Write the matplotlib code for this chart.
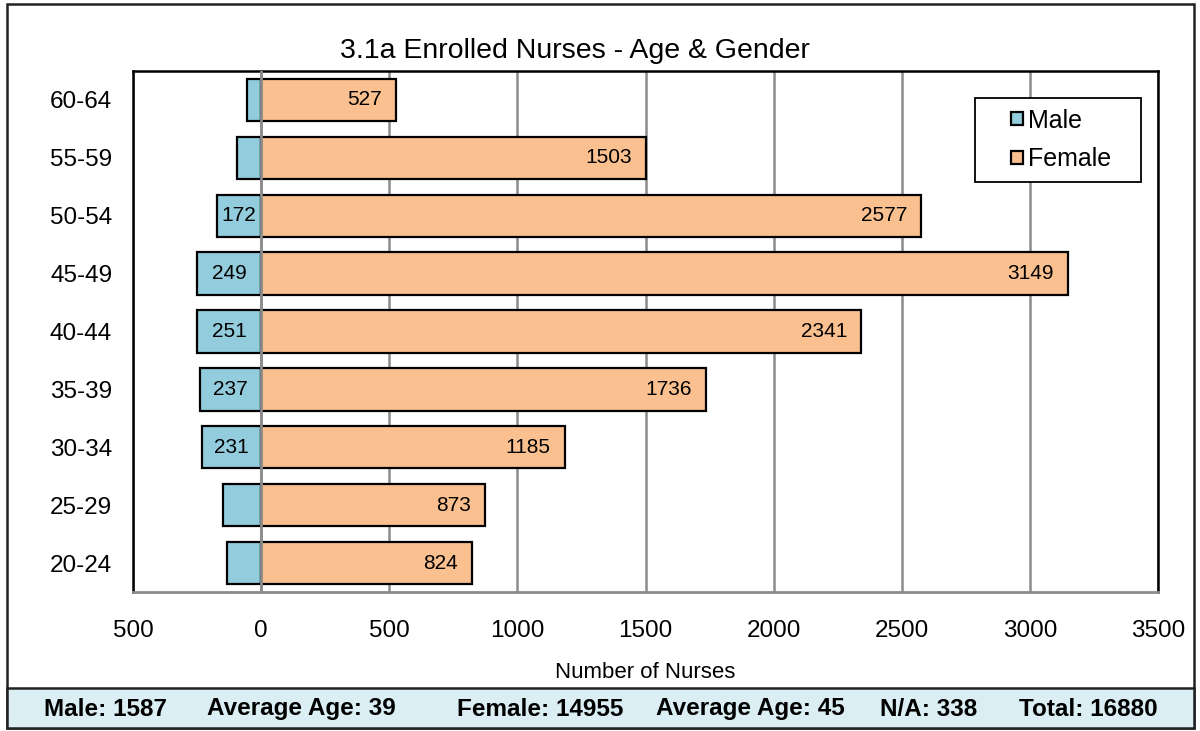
import matplotlib.pyplot as plt
from matplotlib.patches import Rectangle

plt.rcParams['font.family'] = ['Liberation Sans', 'DejaVu Sans']

ages = ['20-24', '25-29', '30-34', '35-39', '40-44', '45-49', '50-54', '55-59', '60-64']
male = [133, 148, 231, 237, 251, 249, 172, 94, 55]
female = [824, 873, 1185, 1736, 2341, 3149, 2577, 1503, 527]
x_ticks = [-500, 0, 500, 1000, 1500, 2000, 2500, 3000, 3500]
footer_parts = ['Male: 1587', 'Average Age: 39', 'Female: 14955', 'Average Age: 45',
                'N/A: 338', 'Total: 16880']
footer_x = [106, 301, 540, 750, 929, 1088]

male_col = '#93CDDD'
female_col = '#FAC090'

fig = plt.figure(figsize=(12, 7.31), dpi=100)
ax = fig.add_axes([133 / 1200, 1 - 592 / 731, (1158 - 133) / 1200, (592 - 71) / 731])

y = list(range(len(ages)))
neg_male = [-m for m in male]
ax.barh(y, neg_male, height=0.73, color=male_col, edgecolor='black', linewidth=1.6,
        label='Male', zorder=3)
ax.barh(y, female, height=0.73, color=female_col, edgecolor='black', linewidth=1.6,
        label='Female', zorder=3)

# data labels
for i in y:
    if male[i] >= 170:
        ax.text(-male[i] / 2, i, str(male[i]), ha='center', va='center', fontsize=15, zorder=4)
    ax.text(female[i] - 55, i, str(female[i]), ha='right', va='center', fontsize=15, zorder=4)

ax.set_xlim(-500, 3500)
ax.set_ylim(-0.5, len(ages) - 0.5)
ax.set_xticks(x_ticks)
ax.set_xticklabels([str(abs(t)) for t in x_ticks], fontsize=17.5)
ax.set_yticks(y)
ax.set_yticklabels(ages, fontsize=17.5)
ax.tick_params(axis='both', length=0)
ax.tick_params(axis='x', pad=20)
ax.tick_params(axis='y', pad=15)
ax.xaxis.grid(True, color='#8c8c8c', linewidth=1.8, zorder=1)
ax.axvline(0, color='#8c8c8c', linewidth=2, zorder=3.5)
for s in ['top', 'right', 'left']:
    ax.spines[s].set_color('black')
    ax.spines[s].set_linewidth(1.8)
ax.spines['bottom'].set_color('#8c8c8c')
ax.spines['bottom'].set_linewidth(2)

fig.text(645 / 1200, 1 - 673 / 731, 'Number of Nurses', ha='center', va='center', fontsize=16)
fig.text(575 / 1200, 1 - 51 / 731, '3.1a Enrolled Nurses - Age & Gender', ha='center',
         va='center', fontsize=20.5)

# legend box drawn by hand so the padding matches
lx0, lx1 = (975 - 133) / 1025, (1141 - 133) / 1025
ly0, ly1 = (592 - 182) / 521, (592 - 98) / 521
ax.add_patch(Rectangle((lx0, ly0), lx1 - lx0, ly1 - ly0, transform=ax.transAxes,
                       facecolor='white', edgecolor='black', linewidth=1.3, zorder=5))
leg = ax.legend(loc='center', bbox_to_anchor=((lx0 + lx1) / 2 + 0.003, (ly0 + ly1) / 2),
                fontsize=18, frameon=False, handlelength=0.45, handleheight=0.45,
                handletextpad=0.2, labelspacing=0.6, borderpad=0, borderaxespad=0)
leg.set_zorder(6)

# outer border and footer band
fig.patches.append(Rectangle((7 / 1200, 1 - 728 / 731), 1187 / 1200, 724 / 731,
                             transform=fig.transFigure, fill=False, edgecolor='#222222',
                             linewidth=1.8))
fig.patches.append(Rectangle((7 / 1200, 1 - 728 / 731), 1187 / 1200, 40 / 731,
                             transform=fig.transFigure, facecolor='#DAEEF3', edgecolor='#222222',
                             linewidth=1.8))
for txt, px in zip(footer_parts, footer_x):
    fig.text(px / 1200, 1 - 709 / 731, txt, ha='center', va='center', fontsize=17.5,
             fontweight='bold', family=['Liberation Sans Narrow', 'Liberation Sans', 'DejaVu Sans'])

fig.savefig('out.png', dpi=100)
